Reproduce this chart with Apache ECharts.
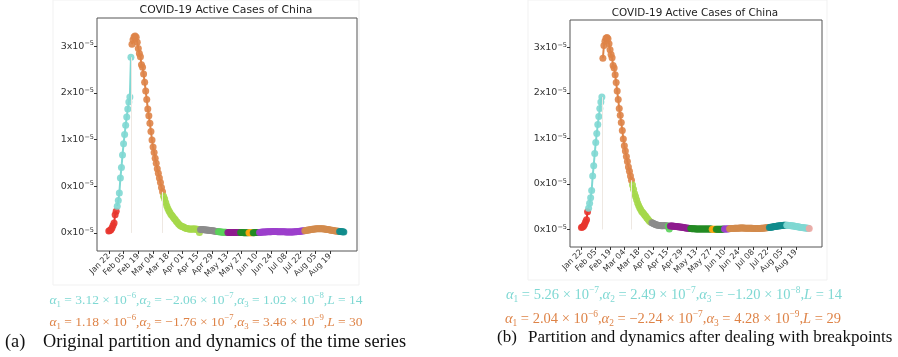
<!DOCTYPE html>
<html>
<head>
<meta charset="utf-8">
<script src="https://cdn.jsdelivr.net/npm/echarts@6/dist/echarts.min.js"></script>
<style>
  html, body {margin: 0; padding: 0; background: #fff;}
  #chart {width: 898px; height: 357px;}
</style>
</head>
<body>
<div id="chart"></div>
<script>
// active cases share, in units of 1e-5, one value per day from Jan 22
const redPart = [0.03, 0.04, 0.05, 0.08, 0.12, 0.16, 0.29, 0.35];
const risePart = [0.43, 0.52, 0.64, 0.88, 1.05, 1.25, 1.43, 1.58, 1.73, 1.86, 1.99, 2.10, 2.18, 2.82];
const peakPart = [3.03, 3.10, 3.15, 3.16, 3.14, 3.06, 2.96, 2.88, 2.83, 2.70, 2.66, 2.55, 2.42, 2.28, 2.14, 1.99, 1.88,
  1.76, 1.63, 1.49, 1.38, 1.29, 1.20, 1.12, 1.03, 0.96, 0.88, 0.81, 0.73, 0.66];
const decayPart = [0.59, 0.544, 0.487, 0.436, 0.392, 0.358, 0.328, 0.294, 0.279, 0.257, 0.233, 0.215, 0.188, 0.170,
  0.146, 0.130, 0.117, 0.109, 0.101, 0.094, 0.085, 0.075, 0.071, 0.067, 0.065, 0.063, 0.061, 0.062, 0.062, 0.063,
  0.062, 0.060, 0.058, 0.056, 0.005];
const tailPart = [0.056, 0.055, 0.054, 0.053, 0.051, 0.049, 0.047, 0.045, 0.043, 0.041, 0.039, 0.037, 0.034, 0.031,
  0.028, 0.025, 0.022,
  0.020, 0.018, 0.016, 0.014, 0.012, 0.011, 0.010, 0.009, 0.008,
  0.007, 0.007, 0.006, 0.006, 0.006, 0.005, 0.005, 0.005, 0.005, 0.005, 0.005, 0.005,
  0.005, 0.005, 0.005, 0.004, 0.004, 0.004, 0.004, 0.004, 0.004, 0.004, 0.004, 0.004, 0.004, 0.004, 0.005, 0.005,
  0.006, 0.007,
  0.008, 0.010, 0.012, 0.013, 0.014, 0.015, 0.016, 0.017, 0.018, 0.019, 0.020, 0.020, 0.021, 0.021, 0.021, 0.021,
  0.021, 0.020, 0.020, 0.019, 0.019, 0.018, 0.018, 0.017, 0.017, 0.016, 0.016, 0.016, 0.015, 0.015, 0.015, 0.015,
  0.016, 0.017, 0.018, 0.020, 0.022, 0.024, 0.026, 0.028, 0.030, 0.032, 0.034,
  0.037, 0.040, 0.043, 0.046, 0.049, 0.052, 0.055, 0.058, 0.060, 0.062, 0.064, 0.066, 0.067, 0.068, 0.068, 0.068,
  0.067, 0.066, 0.064, 0.062, 0.060, 0.057, 0.054, 0.051, 0.048, 0.045, 0.042, 0.039, 0.036, 0.033, 0.030, 0.028,
  0.026,
  0.024, 0.022, 0.020, 0.018, 0.016];
const activeShare = [].concat(redPart, risePart, peakPart, decayPart, tailPart);

const xTickDays = [0, 14, 28, 42, 56, 70, 84, 98, 112, 126, 140, 154, 168, 182, 196, 210];
const xTickLabels = ["Jan 22", "Feb 05", "Feb 19", "Mar 04", "Mar 18", "Apr 01", "Apr 15", "Apr 29",
  "May 13", "May 27", "Jun 10", "Jun 24", "Jul 08", "Jul 22", "Aug 05", "Aug 19"];
const yTickValues = [0, 0.75, 1.5, 2.25, 3];
const yTickLabels = ["0x10", "0x10", "1x10", "2x10", "3x10"];

const colors = {
  red: "#e8352e", turq: "#7fd8d3", orange: "#de8347", ygreen: "#a5d84a", grey: "#8c8c8c",
  lime: "#5ad25a", magenta: "#8e1c8e", fgreen: "#238b23", gold: "#ffa510", orchid: "#9c3fcc",
  peru: "#d38b4c", teal: "#118c8c", pink: "#f0a7a3",
};

// [first day, last day, colour]
const segmentsA = [[0, 7, "red"], [8, 21, "turq"], [22, 51, "orange"], [52, 86, "ygreen"], [87, 103, "grey"],
  [104, 112, "lime"], [113, 124, "magenta"], [125, 132, "fgreen"], [133, 136, "gold"], [137, 142, "fgreen"],
  [143, 185, "orchid"], [186, 218, "peru"], [219, 223, "teal"]];
const segmentsB = [[0, 6, "red"], [7, 20, "turq"], [21, 49, "orange"], [50, 68, "ygreen"], [69, 84, "grey"],
  [85, 86, "lime"], [87, 106, "magenta"], [107, 127, "fgreen"], [128, 131, "gold"], [132, 139, "fgreen"],
  [140, 144, "orchid"], [145, 183, "peru"], [184, 200, "teal"], [201, 222, "turq"], [223, 223, "pink"]];
const breaksA = [21, 51];
const breaksB = [20, 49];

const fitA = {turq: [["3.12", "−6"], ["−2.06", "−7"], ["1.02", "−8"]], turqL: 14,
  orange: [["1.18", "−6"], ["−1.76", "−7"], ["3.46", "−9"]], orangeL: 30};
const fitB = {turq: [["5.26", "−7"], ["2.49", "−7"], ["−1.20", "−8"]], turqL: 14,
  orange: [["2.04", "−6"], ["−2.24", "−7"], ["4.28", "−9"]], orangeL: 29};

const captionA = ["(a)", "Original partition and dynamics of the time series"];
const captionB = ["(b)", "Partition and dynamics after dealing with breakpoints"];
const plotTitle = "COVID-19 Active Cases of China";

function buildSeries(segments, breaks, idx) {
  const out = segments.map(([a, b, c]) => {
    const data = [];
    for (let d = a; d <= b; d++) {
      data.push([d, activeShare[d]]);
    }
    return {
      type: "line", xAxisIndex: idx, yAxisIndex: idx, data: data,
      symbol: "circle", symbolSize: 7, showSymbol: true,
      lineStyle: {width: 2, color: colors[c]}, itemStyle: {color: colors[c], opacity: 0.9},
      silent: true, animation: false, z: 3,
    };
  });
  out.push({
    type: "line", xAxisIndex: idx, yAxisIndex: idx, data: [], silent: true, animation: false,
    markLine: {
      symbol: "none", silent: true, label: {show: false},
      lineStyle: {color: "#eee8e2", width: 1, type: "solid"},
      data: breaks.map(d => [{coord: [d, 0]}, {coord: [d, activeShare[d]]}]),
    },
  });
  return out;
}

function fitText(parts, L) {
  return parts.map((p, i) => "{i|α}{sb|" + (i + 1) + "}{t| = " + p[0] + " × 10}{sp|" + p[1] + "}").join("{t|,}") +
    "{t|,}{i|L}{t| = " + L + "}";
}

const richFit = (color, size) => ({
  t: {fontFamily: "Liberation Serif", fontSize: size, fill: color, lineHeight: 18},
  i: {fontFamily: "Liberation Serif", fontStyle: "italic", fontSize: size, fill: color, lineHeight: 18},
  sb: {fontFamily: "Liberation Serif", fontSize: size * 0.65, fill: color, verticalAlign: "bottom", lineHeight: 18},
  sp: {fontFamily: "Liberation Serif", fontSize: size * 0.65, fill: color, verticalAlign: "top", lineHeight: 18},
});

function axesFor(idx) {
  const xAxis = {
    type: "value", gridIndex: idx, min: -11.2, max: 235.5,
    axisLine: {show: false, onZero: false}, splitLine: {show: false},
    axisTick: {show: true, length: 3, customValues: xTickDays, lineStyle: {color: "#333"}},
    axisLabel: {
      customValues: xTickDays, rotate: 45, fontSize: 8, color: "#333", margin: 4,
      fontFamily: "DejaVu Sans",
      formatter: (v) => xTickLabels[xTickDays.indexOf(v)],
    },
  };
  const yAxis = {
    type: "value", gridIndex: idx, min: -0.29, max: 3.45,
    axisLine: {show: false, onZero: false}, splitLine: {show: false},
    axisTick: {show: true, length: 3, customValues: yTickValues, lineStyle: {color: "#333"}},
    axisLabel: {
      customValues: yTickValues, color: "#333", margin: 3,
      formatter: (v) => "{b|" + yTickLabels[yTickValues.indexOf(v)] + "}{s|−5}",
      rich: {
        b: {fontSize: 9.5, fontFamily: "DejaVu Sans", color: "#333", lineHeight: 12},
        s: {fontSize: 6.5, fontFamily: "DejaVu Sans", color: "#333", verticalAlign: "top", lineHeight: 12},
      },
    },
  };
  return [xAxis, yAxis];
}

const [xA, yA] = axesFor(0);
const [xB, yB] = axesFor(1);

const capStyle = (size) => ({fontFamily: "Liberation Serif", fontSize: size, fill: "#111", textAlign: "left", textVerticalAlign: "middle"});

const chart = echarts.init(document.getElementById("chart"), null, {renderer: "canvas"});
chart.setOption({
  backgroundColor: "#fff",
  animation: false,
  grid: [
    {left: 97, top: 18, width: 260, height: 233, show: true, borderColor: "#555", borderWidth: 1},
    {left: 570, top: 20, width: 252, height: 227, show: true, borderColor: "#555", borderWidth: 1},
  ],
  xAxis: [xA, xB],
  yAxis: [yA, yB],
  series: [].concat(buildSeries(segmentsA, breaksA, 0), buildSeries(segmentsB, breaksB, 1)),
  graphic: [
    {type: "rect", shape: {x: 53, y: 0, width: 306, height: 285}, style: {fill: "none", stroke: "#f1f1f1"}, silent: true, z: -1},
    {type: "rect", shape: {x: 528, y: 0, width: 299, height: 280}, style: {fill: "none", stroke: "#f1f1f1"}, silent: true, z: -1},
    {type: "text", x: 226, y: 10, style: {text: plotTitle, fontFamily: "DejaVu Sans", fontSize: 10.8, fill: "#222", textAlign: "center", textVerticalAlign: "middle"}},
    {type: "text", x: 695, y: 13, style: {text: plotTitle, fontFamily: "DejaVu Sans", fontSize: 10.4, fill: "#222", textAlign: "center", textVerticalAlign: "middle"}},
    {type: "text", x: 206, y: 300, style: {text: fitText(fitA.turq, fitA.turqL), rich: richFit(colors.turq, 13.5), textAlign: "center", textVerticalAlign: "middle"}},
    {type: "text", x: 206, y: 322, style: {text: fitText(fitA.orange, fitA.orangeL), rich: richFit(colors.orange, 13.5), textAlign: "center", textVerticalAlign: "middle"}},
    {type: "text", x: 674, y: 295, style: {text: fitText(fitB.turq, fitB.turqL), rich: richFit(colors.turq, 14.5), textAlign: "center", textVerticalAlign: "middle"}},
    {type: "text", x: 673, y: 319, style: {text: fitText(fitB.orange, fitB.orangeL), rich: richFit(colors.orange, 14.5), textAlign: "center", textVerticalAlign: "middle"}},
    {type: "text", x: 5, y: 342, style: Object.assign({text: captionA[0]}, capStyle(18.3))},
    {type: "text", x: 43, y: 342, style: Object.assign({text: captionA[1]}, capStyle(18.3))},
    {type: "text", x: 497, y: 338, style: Object.assign({text: captionB[0]}, capStyle(17))},
    {type: "text", x: 528, y: 338, style: Object.assign({text: captionB[1]}, capStyle(17))},
  ],
});
</script>
</body>
</html>
